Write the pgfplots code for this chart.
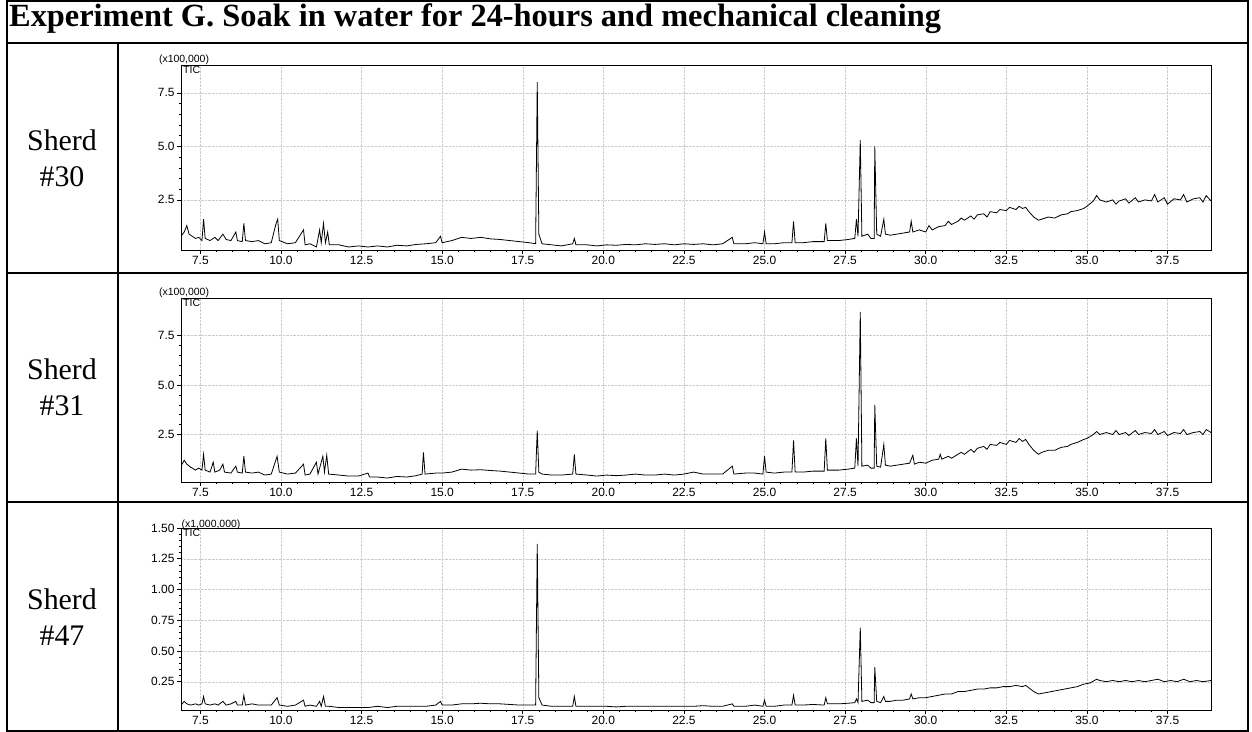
\documentclass[border=0pt]{standalone}
\usepackage{pgfplots}
\pgfplotsset{compat=1.18}
\usepackage{fontspec}
\setmainfont{Liberation Serif}
\newfontfamily\ar{Liberation Sans}
\pgfplotstableread{
x y
6.90 0.8
7.00 1.0
7.08 1.3
7.15 0.9
7.25 0.8
7.35 0.7
7.45 0.75
7.55 0.6
7.60 1.6
7.65 0.7
7.80 0.6
7.95 0.75
8.05 0.6
8.20 0.9
8.30 0.65
8.45 0.6
8.60 1.0
8.65 0.6
8.80 0.55
8.85 1.4
8.90 0.6
9.10 0.55
9.30 0.6
9.50 0.45
9.70 0.5
9.85 1.4
9.90 1.6
9.95 0.6
10.20 0.45
10.45 0.5
10.70 1.1
10.75 0.4
10.90 0.45
11.10 0.3
11.20 1.1
11.25 0.5
11.32 1.4
11.38 0.5
11.45 1.0
11.50 0.4
11.80 0.4
12.10 0.3
12.40 0.35
12.70 0.3
13.00 0.35
13.30 0.3
13.60 0.38
13.90 0.35
14.20 0.42
14.50 0.45
14.80 0.5
14.95 0.8
15.00 0.5
15.30 0.6
15.60 0.75
15.90 0.7
16.20 0.75
16.50 0.68
16.80 0.65
17.10 0.6
17.40 0.55
17.70 0.5
17.90 0.45
17.95 8.0
18.00 0.9
18.10 0.45
18.40 0.4
18.70 0.35
19.05 0.45
19.10 0.7
19.15 0.4
19.50 0.4
19.80 0.35
20.10 0.4
20.40 0.38
20.70 0.42
21.00 0.4
21.30 0.45
21.60 0.42
21.90 0.45
22.20 0.4
22.50 0.45
22.80 0.42
23.10 0.45
23.40 0.4
23.70 0.45
24.00 0.75
24.05 0.45
24.40 0.45
24.70 0.5
24.95 0.45
25.00 1.0
25.05 0.45
25.30 0.45
25.60 0.5
25.85 0.5
25.90 1.5
25.95 0.5
26.20 0.5
26.50 0.55
26.85 0.55
26.90 1.4
26.95 0.6
27.30 0.6
27.60 0.65
27.80 0.7
27.85 1.6
27.90 0.8
27.97 5.3
28.02 0.8
28.20 0.9
28.30 0.7
28.40 0.7
28.42 5.0
28.48 0.9
28.60 0.8
28.70 1.6
28.75 0.9
28.90 0.85
29.10 0.9
29.30 0.95
29.50 1.0
29.55 1.5
29.60 1.0
29.80 1.1
30.00 1.0
30.10 1.3
30.20 1.1
30.40 1.25
30.60 1.3
30.70 1.5
30.80 1.35
31.00 1.5
31.10 1.65
31.20 1.55
31.40 1.75
31.50 1.6
31.60 1.8
31.80 1.85
31.90 1.7
32.00 1.95
32.20 1.9
32.30 2.05
32.50 2.0
32.60 2.15
32.80 2.05
32.90 2.2
33.00 2.1
33.10 2.15
33.20 1.95
33.35 1.7
33.50 1.55
33.60 1.6
33.80 1.7
34.00 1.65
34.20 1.8
34.40 1.85
34.50 1.95
34.70 2.0
34.90 2.1
35.00 2.2
35.20 2.45
35.30 2.7
35.40 2.5
35.60 2.4
35.80 2.5
35.90 2.3
36.00 2.45
36.20 2.55
36.30 2.35
36.50 2.6
36.60 2.4
36.80 2.5
37.00 2.45
37.10 2.75
37.20 2.4
37.40 2.6
37.50 2.3
37.70 2.55
37.90 2.5
38.00 2.75
38.10 2.4
38.30 2.55
38.50 2.6
38.60 2.4
38.70 2.7
38.85 2.45
}\dataA
\pgfplotstableread{
x y
6.90 0.9
7.00 1.2
7.08 1.0
7.20 0.85
7.35 0.7
7.45 0.8
7.55 0.7
7.60 1.5
7.65 0.7
7.80 0.6
7.90 1.1
7.95 0.6
8.10 0.7
8.20 1.0
8.25 0.6
8.45 0.55
8.60 0.9
8.65 0.6
8.80 0.55
8.85 1.4
8.90 0.6
9.10 0.55
9.30 0.6
9.50 0.45
9.70 0.5
9.88 1.4
9.95 0.6
10.20 0.5
10.45 0.55
10.70 1.0
10.75 0.45
10.90 0.5
11.10 1.1
11.15 0.5
11.30 1.4
11.35 0.6
11.42 1.45
11.48 0.5
11.80 0.45
12.10 0.4
12.40 0.4
12.70 0.55
12.75 0.35
13.00 0.35
13.30 0.3
13.60 0.38
13.90 0.35
14.20 0.42
14.38 0.5
14.42 1.6
14.47 0.5
14.80 0.55
15.00 0.55
15.30 0.6
15.60 0.75
15.90 0.7
16.20 0.72
16.50 0.68
16.80 0.65
17.10 0.6
17.40 0.55
17.70 0.5
17.90 0.5
17.95 2.7
18.00 0.6
18.10 0.5
18.40 0.45
18.70 0.45
19.05 0.5
19.10 1.5
19.15 0.5
19.50 0.45
19.80 0.4
20.10 0.45
20.40 0.42
20.70 0.45
21.00 0.5
21.30 0.45
21.60 0.45
21.90 0.5
22.20 0.45
22.50 0.5
22.80 0.6
23.10 0.5
23.40 0.5
23.70 0.5
24.00 0.9
24.05 0.5
24.40 0.55
24.70 0.55
24.95 0.5
25.00 1.4
25.05 0.6
25.30 0.55
25.60 0.6
25.85 0.6
25.90 2.2
25.95 0.6
26.20 0.6
26.50 0.65
26.85 0.65
26.90 2.3
26.95 0.7
27.30 0.7
27.60 0.75
27.80 0.8
27.85 2.3
27.90 0.9
27.97 8.7
28.02 0.9
28.20 0.95
28.30 0.8
28.40 0.8
28.42 4.0
28.48 0.9
28.60 0.85
28.70 2.0
28.75 0.95
28.90 0.9
29.10 0.95
29.30 1.0
29.50 1.05
29.60 1.45
29.65 1.0
29.80 1.1
30.00 1.05
30.20 1.2
30.40 1.25
30.45 1.5
30.50 1.25
30.70 1.4
30.80 1.3
31.00 1.5
31.10 1.6
31.20 1.5
31.40 1.75
31.50 1.6
31.60 1.8
31.80 1.9
31.90 1.75
32.00 2.0
32.20 1.95
32.30 2.1
32.50 2.0
32.60 2.2
32.80 2.1
32.90 2.3
33.00 2.15
33.10 2.25
33.20 2.0
33.35 1.7
33.50 1.5
33.60 1.6
33.80 1.7
34.00 1.7
34.20 1.85
34.40 1.9
34.50 2.0
34.70 2.1
34.90 2.25
35.00 2.3
35.20 2.5
35.30 2.65
35.40 2.5
35.60 2.6
35.80 2.5
35.90 2.7
36.00 2.5
36.20 2.6
36.30 2.45
36.50 2.7
36.60 2.5
36.80 2.6
37.00 2.55
37.10 2.75
37.20 2.5
37.40 2.65
37.50 2.45
37.70 2.6
37.90 2.55
38.00 2.75
38.10 2.5
38.30 2.6
38.50 2.65
38.60 2.5
38.70 2.75
38.85 2.6
}\dataB
\pgfplotstableread{
x y
6.90 0.06
7.00 0.09
7.08 0.07
7.20 0.06
7.35 0.07
7.45 0.06
7.55 0.07
7.60 0.13
7.65 0.07
7.80 0.06
7.95 0.07
8.05 0.06
8.20 0.09
8.30 0.06
8.45 0.07
8.60 0.09
8.65 0.06
8.80 0.06
8.85 0.14
8.90 0.06
9.10 0.07
9.30 0.06
9.50 0.06
9.70 0.06
9.88 0.12
9.95 0.06
10.20 0.05
10.45 0.06
10.70 0.1
10.75 0.05
10.90 0.06
11.10 0.05
11.20 0.09
11.25 0.05
11.32 0.13
11.38 0.05
11.50 0.05
11.80 0.04
12.10 0.04
12.40 0.04
12.70 0.04
13.00 0.05
13.30 0.04
13.60 0.05
13.90 0.05
14.20 0.05
14.50 0.05
14.80 0.06
14.95 0.09
15.00 0.06
15.30 0.06
15.60 0.07
15.90 0.07
16.20 0.075
16.50 0.07
16.80 0.07
17.10 0.065
17.40 0.06
17.70 0.06
17.90 0.06
17.95 1.37
18.00 0.12
18.10 0.06
18.40 0.05
18.70 0.05
19.05 0.05
19.10 0.13
19.15 0.05
19.50 0.05
19.80 0.05
20.10 0.05
20.40 0.045
20.70 0.05
21.00 0.05
21.30 0.05
21.60 0.05
21.90 0.05
22.20 0.05
22.50 0.05
22.80 0.05
23.10 0.055
23.40 0.05
23.70 0.05
24.00 0.07
24.05 0.05
24.40 0.05
24.70 0.06
24.95 0.05
25.00 0.1
25.05 0.05
25.30 0.05
25.60 0.06
25.85 0.06
25.90 0.14
25.95 0.06
26.20 0.06
26.50 0.065
26.85 0.06
26.90 0.12
26.95 0.07
27.30 0.07
27.60 0.075
27.80 0.08
27.85 0.11
27.90 0.08
27.97 0.69
28.02 0.09
28.20 0.1
28.30 0.08
28.40 0.08
28.42 0.37
28.48 0.09
28.60 0.08
28.70 0.13
28.75 0.09
28.90 0.09
29.10 0.1
29.30 0.1
29.50 0.11
29.55 0.15
29.60 0.11
29.80 0.12
30.00 0.12
30.20 0.13
30.40 0.14
30.60 0.15
30.80 0.15
31.00 0.17
31.20 0.17
31.40 0.18
31.60 0.19
31.80 0.19
32.00 0.2
32.20 0.2
32.40 0.21
32.60 0.21
32.80 0.22
33.00 0.21
33.10 0.22
33.20 0.2
33.35 0.17
33.50 0.15
33.70 0.16
33.90 0.17
34.10 0.18
34.30 0.19
34.50 0.2
34.70 0.21
34.90 0.23
35.10 0.24
35.30 0.27
35.40 0.26
35.60 0.25
35.80 0.26
36.00 0.25
36.20 0.26
36.40 0.25
36.60 0.26
36.80 0.25
37.00 0.26
37.20 0.27
37.40 0.25
37.60 0.26
37.80 0.25
38.00 0.27
38.20 0.25
38.40 0.26
38.60 0.25
38.85 0.26
}\dataC
\pgfplotsset{
  chrom/.style={
    scale only axis, width=1030bp,
    xmin=6.9, xmax=38.85,
    xtick={7.5,10,...,37.5}, minor x tick num=4,
    tick label style={font=\ar\fontsize{12}{13}\selectfont},
    /pgf/number format/assume math mode=true,
    xticklabel={\pgfmathprintnumber[fixed,fixed zerofill,precision=1]{\tick}},
    tick align=outside, tickwidth=4bp, subtickwidth=2.5bp,
    xtick pos=bottom, ytick pos=left,
    grid=major, grid style={densely dotted, gray!40},
    axis line style={black, line width=0.6pt},
    every tick/.style={black, line width=0.5pt},
    xticklabel style={yshift=1bp},
    yticklabel style={xshift=1bp},
    clip mode=individual,
  },
}
\begin{document}
\begin{tikzpicture}[x=1bp,y=1bp]
\useasboundingbox (0,0) rectangle (1252,732);
\draw[line width=1.5pt] (7,731.2) -- (1248,731.2);
\draw[line width=1.5pt] (7,732-43) -- (1248,732-43);
\draw[line width=1.5pt] (7,732-273) -- (1248,732-273);
\draw[line width=1.5pt] (7,732-502) -- (1248,732-502);
\draw[line width=1.5pt] (7,0.8) -- (1248,0.8);
\draw[line width=1.5pt] (7,0) -- (7,732);
\draw[line width=1.5pt] (1248,0) -- (1248,732);
\draw[line width=1.5pt] (118,0) -- (118,732-43);
\node[anchor=west,font=\bfseries\fontsize{32.5}{36}\selectfont,inner sep=1bp] at (8,732-19) {Experiment G. Soak in water for 24-hours and mechanical cleaning};
\node[align=center,font=\fontsize{30}{36}\selectfont] at (62,732-158) {Sherd\\\#30};
\node[align=center,font=\fontsize{30}{36}\selectfont] at (62,732-387) {Sherd\\\#31};
\node[align=center,font=\fontsize{30}{36}\selectfont] at (62,732-617) {Sherd\\\#47};

\begin{axis}[chrom, at={(181bp,482bp)}, anchor=south west, height=185bp,
  ymin=0.16, ymax=8.8, ytick={2.5,5,7.5}, minor y tick num=4,
  yticklabel={\pgfmathprintnumber[fixed,fixed zerofill,precision=1]{\tick}}]
\addplot[black, line width=0.8pt] table[x=x,y=y] {\dataA};
\node[anchor=south west,font=\ar\fontsize{10.5}{11}\selectfont,inner sep=0.5bp] at (rel axis cs:-0.022,1) {(x100,000)};
\node[anchor=north west,font=\ar\fontsize{10.5}{11}\selectfont,inner sep=1bp] at (rel axis cs:0.001,1) {TIC};
\end{axis}

\begin{axis}[chrom, at={(181bp,250bp)}, anchor=south west, height=184bp,
  ymin=0.1, ymax=9.4, ytick={2.5,5,7.5}, minor y tick num=4,
  yticklabel={\pgfmathprintnumber[fixed,fixed zerofill,precision=1]{\tick}}]
\addplot[black, line width=0.8pt] table[x=x,y=y] {\dataB};
\node[anchor=south west,font=\ar\fontsize{10.5}{11}\selectfont,inner sep=0.5bp] at (rel axis cs:-0.022,1) {(x100,000)};
\node[anchor=north west,font=\ar\fontsize{10.5}{11}\selectfont,inner sep=1bp] at (rel axis cs:0.001,1) {TIC};
\end{axis}

\begin{axis}[chrom, at={(181bp,22bp)}, anchor=south west, height=182bp,
  ymin=0.02, ymax=1.5, ytick={0.25,0.5,...,1.5}, minor y tick num=4,
  yticklabel={\pgfmathprintnumber[fixed,fixed zerofill,precision=2]{\tick}}]
\addplot[black, line width=0.8pt] table[x=x,y=y] {\dataC};
\node[anchor=south west,font=\ar\fontsize{10.5}{11}\selectfont,inner sep=0.5bp] at (rel axis cs:0.0,0.985) {(x1,000,000)};
\node[anchor=north west,font=\ar\fontsize{10.5}{11}\selectfont,inner sep=1bp] at (rel axis cs:0.001,1) {TIC};
\end{axis}
\end{tikzpicture}
\end{document}
